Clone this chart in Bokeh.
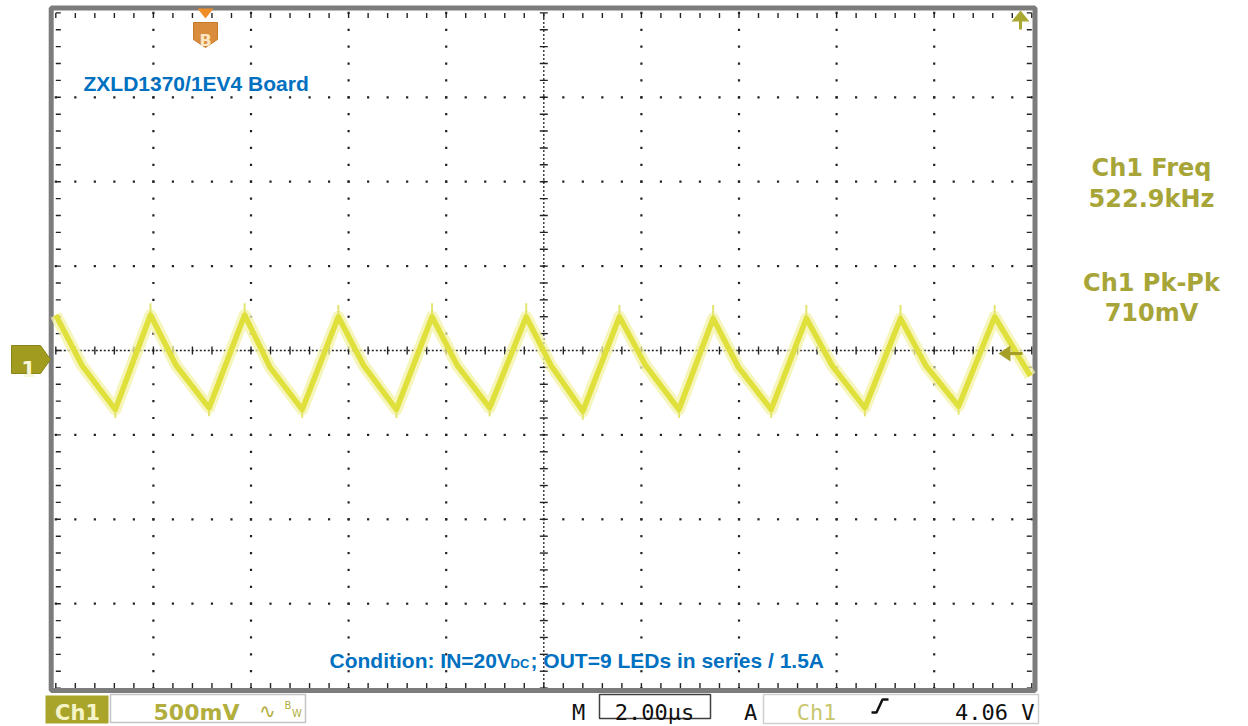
import numpy as np
from bokeh.plotting import figure
from bokeh.models import Range1d
from bokeh.core.properties import value
from bokeh.embed import file_html
from bokeh.resources import INLINE

# ---------------- data ----------------
# Ch1 ripple trace vertices: time in microseconds (2 us/div), voltage in volts (0.5 V/div)
trace_t = [-10.00, -9.46, -8.78, -8.06, -7.53, -6.86, -6.13, -5.61, -4.95, -4.21, -3.69,
           -3.02, -2.29, -1.77, -1.11, -0.36, 0.15, 0.80, 1.55, 2.09, 2.77, 3.47, 3.99,
           4.66, 5.38, 5.91, 6.58, 7.31, 7.83, 8.50, 9.24, 9.97]
trace_v = [0.21, -0.09, -0.35, 0.21, -0.09, -0.34, 0.21, -0.10, -0.35, 0.20, -0.09,
           -0.35, 0.20, -0.09, -0.34, 0.20, -0.09, -0.36, 0.20, -0.09, -0.35, 0.19, -0.10,
           -0.35, 0.19, -0.09, -0.34, 0.19, -0.09, -0.33, 0.20, -0.15]
# thin noise spikes on the peaks and troughs
peak_t = [-8.06, -6.13, -4.21, -2.29, -0.36, 1.55, 3.47, 5.38, 7.31, 9.24]
peak_v = [0.21, 0.21, 0.20, 0.20, 0.20, 0.20, 0.19, 0.19, 0.19, 0.20]
peak_spike_v = [0.28, 0.28, 0.27, 0.28, 0.28, 0.27, 0.27, 0.27, 0.27, 0.27]
trough_t = [-8.78, -6.86, -4.95, -3.02, -1.11, 0.80, 2.77, 4.66, 6.58, 8.50]
trough_v = [-0.35, -0.34, -0.35, -0.35, -0.34, -0.36, -0.35, -0.35, -0.34, -0.33]
trough_spike_v = [-0.40, -0.39, -0.40, -0.40, -0.39, -0.41, -0.40, -0.40, -0.39, -0.38]

meas_labels = ["Ch1 Freq", "522.9kHz", "Ch1 Pk-Pk", "710mV"]
board_label = "ZXLD1370/1EV4 Board"
cond_main, cond_sub, cond_rest = "Condition: IN=20V", "DC", "; OUT=9 LEDs in series / 1.5A"
ch_name = "Ch1"
ch_scale = "500mV"
timebase = "2.00\u00b5s"
trig_src = "Ch1"
trig_level = "4.06 V"

time_per_div = 2.0   # us
volt_per_div = 0.5   # V
n_hdiv, n_vdiv = 10, 8

# ---------------- screen geometry (page px -> data) ----------------
T0, PX_US = 543.3, 48.8      # page x of t=0, px per microsecond
V0, PX_V = 350.0, 168.8      # page y of v=0, px per volt
W, H = 1248, 726


def X(px):
    return (px - T0) / PX_US


def Y(py):
    return (V0 - py) / PX_V


p = figure(width=W, height=H, x_range=Range1d(X(0), X(W)), y_range=Range1d(Y(H), Y(0)),
           output_backend="svg", toolbar_location=None, min_border=0,
           x_axis_location=None, y_axis_location=None, outline_line_color=None,
           background_fill_color="white", border_fill_color="white")
for g in p.grid:
    g.visible = False

t_lo, t_hi = -n_hdiv / 2 * time_per_div, n_hdiv / 2 * time_per_div
v_lo, v_hi = -n_vdiv / 2 * volt_per_div, n_vdiv / 2 * volt_per_div
t_minor = np.arange(t_lo, t_hi + 1e-9, time_per_div / 5)
v_minor = np.arange(v_lo, v_hi + 1e-9, volt_per_div / 5)
t_major = [t for t in np.arange(t_lo + time_per_div, t_hi - 1e-9, time_per_div) if abs(t) > 1e-9]
v_major = [v for v in np.arange(v_lo + volt_per_div, v_hi - 1e-9, volt_per_div) if abs(v) > 1e-9]

# dotted graticule
dx, dy = [], []
for t in t_major:
    dx += [t] * len(v_minor)
    dy += list(v_minor)
for v in v_major:
    dx += list(t_minor)
    dy += [v] * len(t_minor)
p.scatter(dx, dy, marker="square", size=2.2, color="#222222", line_color=None)

# center cross with ticks
p.line([t_lo, t_hi], [0, 0], line_color="#222222", line_width=1.3, line_dash="2 2")
p.line([0, 0], [v_lo, v_hi], line_color="#222222", line_width=1.3, line_dash="2 2")
tk_v = 4 / PX_V
tk_t = 4 / PX_US
p.segment(x0=t_minor, y0=-tk_v, x1=t_minor, y1=tk_v, line_color="#222222", line_width=1.4)
p.segment(x0=-tk_t, y0=v_minor, x1=tk_t, y1=v_minor, line_color="#222222", line_width=1.4)

# border ticks
bt_v = 5 / PX_V
bt_t = 5 / PX_US
p.segment(x0=t_minor, y0=v_hi, x1=t_minor, y1=v_hi - bt_v, line_color="#222222", line_width=1.4)
p.segment(x0=t_minor, y0=v_lo, x1=t_minor, y1=v_lo + bt_v, line_color="#222222", line_width=1.4)
p.segment(x0=t_lo, y0=v_minor, x1=t_lo + bt_t, y1=v_minor, line_color="#222222", line_width=1.4)
p.segment(x0=t_hi, y0=v_minor, x1=t_hi - bt_t, y1=v_minor, line_color="#222222", line_width=1.4)

# gray frame
p.quad(left=X(50.7), right=X(1034.5), top=Y(7.5), bottom=Y(690), fill_color=None,
       line_color="#7c7c7c", line_width=5)

# ---------------- trace ----------------
p.line(trace_t, trace_v, line_color="#F2F2A6", line_width=12, line_alpha=0.75, line_join="round")
p.segment(x0=peak_t, y0=peak_v, x1=peak_t, y1=peak_spike_v, line_color="#E4E470", line_width=2)
p.segment(x0=trough_t, y0=trough_v, x1=trough_t, y1=trough_spike_v, line_color="#E4E470", line_width=2)
p.line(trace_t, trace_v, line_color="#E0E03C", line_width=5.5, line_join="round")

# ---------------- markers ----------------
# channel 1 ground marker
p.patch([X(11), X(40), X(50), X(40), X(11)], [Y(345), Y(345), Y(359), Y(373), Y(373)],
        fill_color="#A19C20", line_color="#8A8518", line_width=1)
p.text(x=[X(28)], y=[Y(368)], text=["1"], text_font=value("DejaVu Sans"), text_font_style="bold",
       text_font_size="21px", text_color="#F8F6D8", text_align="center", text_baseline="alphabetic")

# "B" marker
p.patch([X(197), X(213), X(205)], [Y(8), Y(8), Y(18)], fill_color="#F08C28", line_color=None)
p.patch([X(193), X(217), X(217), X(205), X(193)], [Y(22), Y(22), Y(39), Y(47), Y(39)],
        fill_color="#D98C3C", line_color="#C47A2C", line_width=1)
p.text(x=[X(205)], y=[Y(40)], text=["B"], text_font=value("DejaVu Sans"), text_font_style="bold",
       text_font_size="16px", text_color="#FBE6C4", text_align="center", text_baseline="alphabetic")

# trigger level arrow (right)
p.patch([X(998), X(1010), X(1010)], [Y(353), Y(345), Y(361)], fill_color="#A6A028", line_color=None)
p.segment(x0=[X(1008)], y0=[Y(353)], x1=[X(1022)], y1=[Y(353)], line_color="#A6A028", line_width=3)
# trigger position arrow (top right)
p.patch([X(1020), X(1011), X(1029)], [Y(10), Y(21), Y(21)], fill_color="#A8A832", line_color=None)
p.segment(x0=[X(1020)], y0=[Y(20)], x1=[X(1020)], y1=[Y(29)], line_color="#A8A832", line_width=3)

# ---------------- annotations ----------------
BLUE = "#0070C0"
p.text(x=[X(83)], y=[Y(82.7)], text=[board_label], text_font=value("Liberation Sans"),
       text_font_style="bold", text_font_size="21px", text_color=BLUE, text_baseline="alphabetic")
p.text(x=[X(329)], y=[Y(660)], text=[cond_main], text_font=value("Liberation Sans"),
       text_font_style="bold", text_font_size="21px", text_color=BLUE, text_baseline="alphabetic")
p.text(x=[X(510)], y=[Y(663)], text=[cond_sub], text_font=value("Liberation Sans"),
       text_font_style="bold", text_font_size="13px", text_color=BLUE, text_baseline="alphabetic")
p.text(x=[X(530)], y=[Y(660)], text=[cond_rest], text_font=value("Liberation Sans"),
       text_font_style="bold", text_font_size="21px", text_color=BLUE, text_baseline="alphabetic")

OLIVE = "#A8A538"
p.text(x=[X(1151)] * 4, y=[Y(167.7), Y(198.3), Y(282.7), Y(312.5)], text=meas_labels,
       text_font=value("DejaVu Sans"), text_font_style="bold", text_font_size="24px",
       text_color=OLIVE, text_align="center", text_baseline="alphabetic")

# ---------------- bottom status bar ----------------
BASE = 712.0
FS = "21px"
p.quad(left=[X(45)], right=[X(108)], top=[Y(695)], bottom=[Y(723)], fill_color="#A9A42A", line_color=None)
p.text(x=[X(77)], y=[Y(BASE)], text=[ch_name], text_font=value("DejaVu Sans"), text_font_style="bold",
       text_font_size=FS, text_color="#F5F3C8", text_align="center", text_baseline="alphabetic")
p.quad(left=[X(110)], right=[X(305)], top=[Y(694)], bottom=[Y(722)], fill_color="white",
       line_color="#C4C4C4", line_width=1.5)
p.text(x=[X(196)], y=[Y(BASE)], text=[ch_scale], text_font=value("DejaVu Sans"), text_font_style="bold",
       text_font_size="22px", text_color="#B2AE3E", text_align="center", text_baseline="alphabetic")
p.text(x=[X(267)], y=[Y(710)], text=["\u223f"], text_font=value("DejaVu Sans"),
       text_font_size="20px", text_color="#B2AE3E", text_align="center", text_baseline="alphabetic")
p.text(x=[X(287.5), X(296.5)], y=[Y(705), Y(713)], text=["B", "W"], text_font=value("DejaVu Sans"),
       text_font_size="10px", text_color="#B2AE3E", text_align="center", text_baseline="alphabetic")

p.text(x=[X(578)], y=[Y(BASE)], text=["M"], text_font=value("DejaVu Sans Mono"),
       text_font_size="22px", text_color="#111111", text_align="center", text_baseline="alphabetic")
p.quad(left=[X(599)], right=[X(710)], top=[Y(694)], bottom=[Y(718)], fill_color=None,
       line_color="#404040", line_width=1.5)
p.text(x=[X(654)], y=[Y(BASE)], text=[timebase], text_font=value("DejaVu Sans Mono"),
       text_font_size="22px", text_color="#111111", text_align="center", text_baseline="alphabetic")
p.text(x=[X(750)], y=[Y(BASE)], text=["A"], text_font=value("DejaVu Sans Mono"),
       text_font_size="22px", text_color="#111111", text_align="center", text_baseline="alphabetic")
p.quad(left=[X(763)], right=[X(1038)], top=[Y(694)], bottom=[Y(723)], fill_color=None,
       line_color="#D0D0D0", line_width=1.5)
p.text(x=[X(816)], y=[Y(BASE)], text=[trig_src], text_font=value("DejaVu Sans Mono"),
       text_font_size="22px", text_color="#C8C66E", text_align="center", text_baseline="alphabetic")
p.line([X(871), X(876), X(882), X(888)], [Y(712), Y(712), Y(699), Y(699)], line_color="#111111",
       line_width=2.5)
p.text(x=[X(1034)], y=[Y(BASE)], text=[trig_level], text_font=value("DejaVu Sans Mono"),
       text_font_size="22px", text_color="#111111", text_align="right", text_baseline="alphabetic")

open("out.html", "w").write(file_html(p, INLINE))
